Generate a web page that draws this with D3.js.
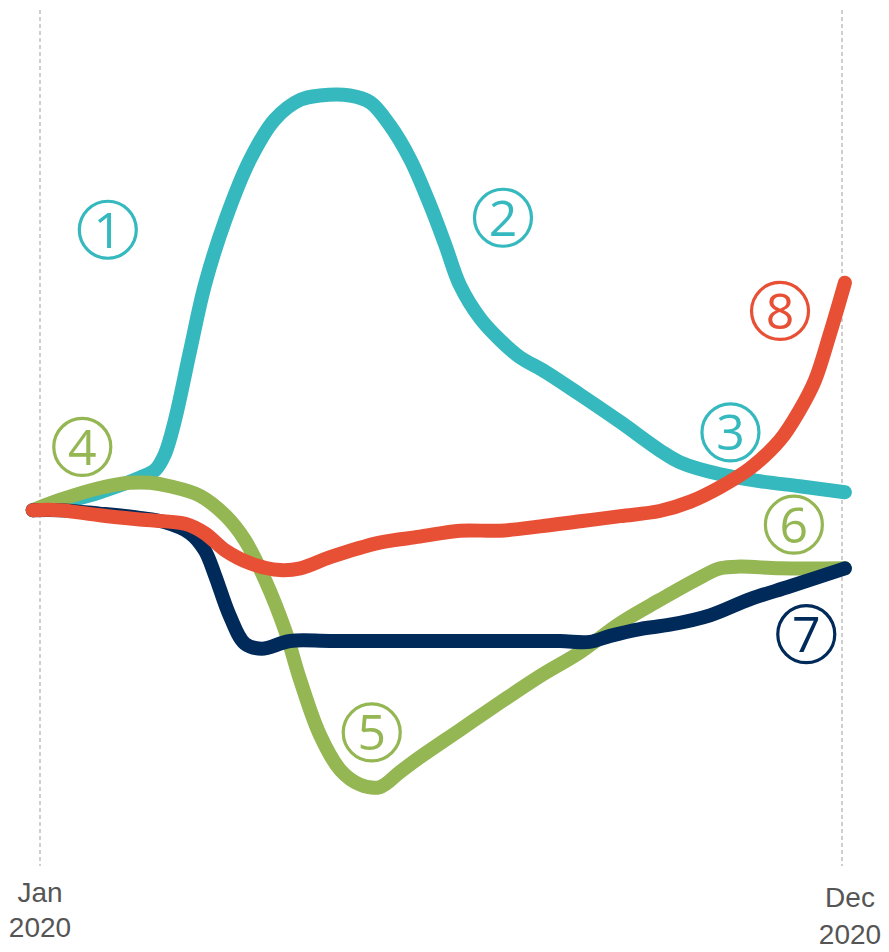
<!DOCTYPE html>
<html>
<head>
<meta charset="utf-8">
<script src="https://cdn.jsdelivr.net/npm/d3@7"></script>
<style>
  body { margin: 0; background: #fff; }
  svg { display: block; }
</style>
</head>
<body>
<svg id="chart"></svg>
<script>
// month index (0 = Jan, 11 = Dec) and an index value
const tealX   = [-0.1, 0.27, 0.82, 1.37, 1.58, 1.71, 1.85, 2.06, 2.26, 2.54, 2.88, 3.22, 3.57, 3.84, 4.25, 4.53, 4.8, 5.08, 5.35, 5.56, 5.76, 6.04, 6.31, 6.58, 6.93, 7.41, 7.96, 8.5, 8.78, 9.33, 9.87, 10.42, 11.04];
const tealY   = [41.5, 42.3, 43.6, 45.3, 46.2, 48.0, 52.0, 60.2, 67.8, 75.4, 82.5, 87.2, 89.5, 90.0, 90.0, 89.2, 86.5, 82.5, 77.2, 72.5, 67.8, 63.9, 61.4, 59.4, 57.7, 55.0, 51.8, 48.5, 47.1, 45.7, 44.9, 44.3, 43.6];

const greenX  = [-0.1, 0.27, 0.82, 1.23, 1.51, 1.78, 2.19, 2.54, 2.81, 3.09, 3.36, 3.57, 3.84, 4.12, 4.39, 4.66, 4.94, 5.21, 5.76, 6.31, 6.86, 7.41, 7.96, 8.5, 9.05, 9.33, 9.6, 10.15, 11.04];
const greenY  = [41.5, 42.7, 44.1, 44.7, 44.7, 44.3, 43.2, 40.9, 38.0, 33.3, 27.5, 21.6, 15.2, 11.1, 9.4, 9.1, 10.9, 12.6, 15.8, 19.0, 22.1, 24.9, 28.3, 31.0, 33.6, 34.7, 34.9, 34.7, 34.7];

const navyX   = [-0.1, 0.27, 0.82, 1.37, 1.71, 2.06, 2.26, 2.4, 2.6, 2.81, 3.04, 3.43, 3.98, 4.94, 6.31, 7.13, 7.54, 7.82, 8.23, 8.64, 9.19, 9.74, 10.29, 11.04];
const navyY   = [41.5, 41.5, 41.1, 40.6, 40.1, 38.8, 36.8, 33.9, 29.2, 25.9, 25.3, 26.2, 26.2, 26.2, 26.2, 26.2, 26.1, 26.8, 27.6, 28.1, 29.2, 31.1, 32.6, 34.7];

const orangeX = [-0.1, 0.27, 0.82, 1.37, 1.99, 2.26, 2.54, 2.88, 3.29, 3.57, 3.98, 4.66, 5.21, 5.76, 6.31, 6.86, 7.41, 7.96, 8.5, 8.92, 9.33, 9.74, 10.15, 10.42, 10.63, 10.83, 11.04];
const orangeY = [41.5, 41.5, 40.9, 40.4, 39.9, 38.8, 36.8, 35.3, 34.5, 34.7, 36.0, 37.7, 38.4, 39.1, 39.1, 39.6, 40.2, 40.8, 41.4, 42.5, 44.2, 46.4, 49.7, 53.2, 56.7, 62.0, 68.1];

const seriesNames  = ['teal', 'green', 'navy', 'orange'];
const seriesColors = ['#35b9be', '#94b653', '#002a5a', '#e85035'];

// circled markers: number, series, month, value
const markNums   = ['1', '2', '3', '4', '5', '6', '7', '8'];
const markSeries = [0, 0, 0, 1, 1, 1, 2, 3];
const markX      = [0.93, 6.35, 9.47, 0.58, 4.55, 10.34, 10.51, 10.15];
const markY      = [74.3, 75.7, 50.6, 48.9, 15.5, 39.8, 27.0, 64.8];

const tickLabels = [['Jan', '2020'], ['Dec', '2020']];
const tickMonths = [0, 11];

const width = 889, height = 952;
const svg = d3.select('#chart').attr('width', width).attr('height', height);

const x = d3.scaleLinear().domain([0, 11]).range([40, 842]);
const y = d3.scaleLinear().domain([0, 100]).range([865, 10]);

// dashed guides at Jan and Dec
svg.append('g').selectAll('line')
  .data(tickMonths)
  .join('line')
  .attr('x1', d => x(d)).attr('x2', d => x(d))
  .attr('y1', 10).attr('y2', 866)
  .attr('stroke', '#b0b0b0')
  .attr('stroke-width', 1.2)
  .attr('stroke-dasharray', '4,3');

// tick labels (Dec sits a bit further right and lower)
const labX = i => i == 0 ? x(tickMonths[0]) : x(tickMonths[1]) + 8;
const lab = svg.append('g').selectAll('text')
  .data(tickLabels)
  .join('text')
  .attr('x', (d, i) => labX(i))
  .attr('y', (d, i) => i == 0 ? 902 : 907)
  .attr('text-anchor', 'middle')
  .style('font-family', 'Liberation Sans, Arial, sans-serif')
  .style('font-size', '28px')
  .style('fill', '#555');
lab.append('tspan').attr('x', (d, i) => labX(i)).text(d => d[0]);
lab.append('tspan').attr('x', (d, i) => labX(i)).attr('dy', (d, i) => i == 0 ? 35 : 37).text(d => d[1]);

const allX = [tealX, greenX, navyX, orangeX];
const allY = [tealY, greenY, navyY, orangeY];

const line = d3.line()
  .x(d => x(d[0]))
  .y(d => y(d[1]))
  .curve(d3.curveCatmullRom.alpha(0.5));

svg.append('g').selectAll('path')
  .data(seriesNames.map((name, i) => allX[i].map((v, j) => [v, allY[i][j]])))
  .join('path')
  .attr('d', line)
  .attr('fill', 'none')
  .attr('stroke', (d, i) => seriesColors[i])
  .attr('stroke-width', 14)
  .attr('stroke-linecap', 'round')
  .attr('stroke-linejoin', 'round');

// circled number labels
const marks = svg.append('g').selectAll('g')
  .data(markNums)
  .join('g')
  .attr('transform', (d, i) => `translate(${x(markX[i])}, ${y(markY[i])})`);

marks.append('circle')
  .attr('r', 28.5)
  .attr('fill', 'none')
  .attr('stroke', (d, i) => seriesColors[markSeries[i]])
  .attr('stroke-width', 3.2);

marks.append('text')
  .attr('text-anchor', 'middle')
  .attr('dy', '0.36em')
  .style('font-family', 'Open Sans, sans-serif')
  .style('font-size', '50px')
  .style('fill', (d, i) => seriesColors[markSeries[i]])
  .text(d => d);
</script>
</body>
</html>
